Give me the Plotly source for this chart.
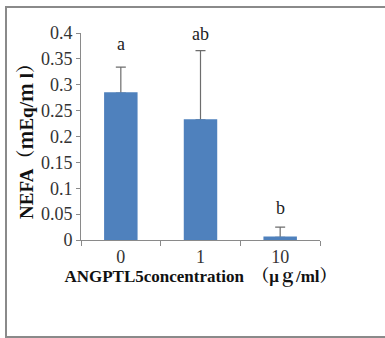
import plotly.graph_objects as go

categories = ["0", "1", "10"]
nefa_mean = [0.284, 0.232, 0.005]
nefa_err = [0.050, 0.134, 0.020]
sig_labels = ["a", "ab", "b"]
y_ticks = [0, 0.05, 0.1, 0.15, 0.2, 0.25, 0.3, 0.35, 0.4]
y_tick_text = ["0", "0.05", "0.1", "0.15", "0.2", "0.25", "0.3", "0.35", "0.4"]

SERIF = "Liberation Serif, Noto Serif CJK JP, Noto Sans CJK JP, serif"
BAR_COLOR = "#4F81BD"
label_shift = [11, 5, 7]

fig = go.Figure()
# error bars (upper only); the lower cap is hidden under the bar drawn on top
fig.add_trace(go.Bar(
    x=categories, y=nefa_mean,
    marker=dict(color="rgba(0,0,0,0)", line=dict(width=0)),
    width=0.41,
    error_y=dict(type="data", array=nefa_err, arrayminus=[0, 0, 0],
                 symmetric=False, color="#6d6d6d", thickness=1.2, width=5),
))
fig.add_trace(go.Bar(
    x=categories, y=nefa_mean,
    marker=dict(color=BAR_COLOR, line=dict(width=1.6, color=BAR_COLOR)),
    width=0.40,
))

for i, (m, e, lab, s) in enumerate(zip(nefa_mean, nefa_err, sig_labels, label_shift)):
    fig.add_annotation(x=i, y=m + e, text=lab, showarrow=False,
                       yanchor="bottom", yshift=s,
                       font=dict(family=SERIF, size=18, color="#222"))

L, T, W, H = 81, 33, 239, 207
fig.add_shape(type="rect", xref="paper", yref="paper",
              x0=(6 - L) / W, x1=(392 - L) / W,
              y0=(T + H - 337) / H, y1=(T + H - 7) / H,
              line=dict(color="#8a8a8a", width=2), fillcolor="rgba(0,0,0,0)",
              layer="below")

fig.update_layout(
    width=385, height=338,
    margin=dict(l=L, r=385 - L - W, t=T, b=338 - T - H, pad=0),
    paper_bgcolor="white", plot_bgcolor="white",
    showlegend=False, barmode="overlay",
    font=dict(family=SERIF, size=15, color="#222"),
    xaxis=dict(
        type="category", showline=True, linecolor="#8a8a8a", linewidth=1,
        ticks="outside", tickson="boundaries", ticklen=5, tickcolor="#8a8a8a",
        tickfont=dict(family=SERIF, size=18, color="#333"),
        title=dict(text="<b>ANGPTL5concentration　（μｇ/ml）</b>",
                   font=dict(family=SERIF, size=17, color="#111"), standoff=2),
        showgrid=False, range=[-0.5, 2.5],
    ),
    yaxis=dict(
        range=[0, 0.4], tickvals=y_ticks, ticktext=y_tick_text,
        showline=True, linecolor="#8a8a8a", linewidth=1,
        ticks="outside", ticklen=4, tickcolor="#8a8a8a",
        tickfont=dict(family=SERIF, size=18, color="#333"),
        title=dict(text="<b>NEFA（ｍEq/ｍ l）</b>",
                   font=dict(family=SERIF, size=19, color="#111"), standoff=2),
        showgrid=False, zeroline=False,
    ),
)

fig.write_html("out.html",
               config={"displayModeBar": False},
               post_script="document.body.style.margin='0';document.body.style.overflow='hidden';")
